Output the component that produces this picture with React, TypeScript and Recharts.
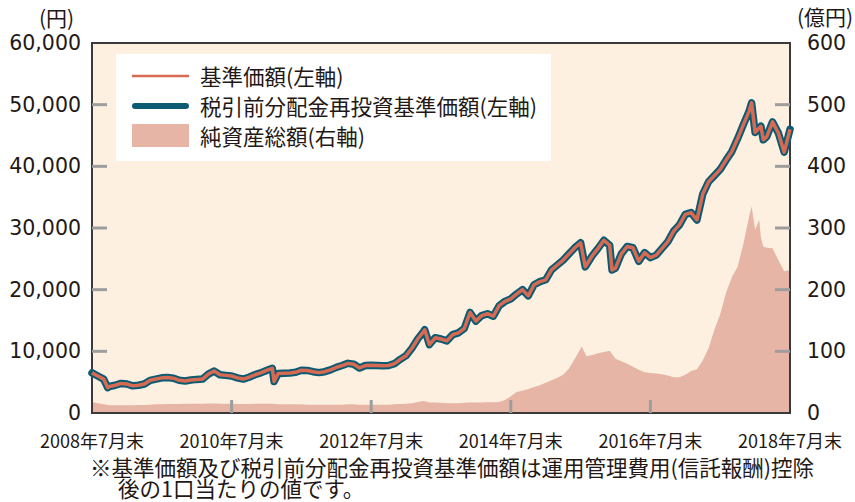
import React from "react";
import {
  ComposedChart,
  Line,
  Area,
  XAxis,
  YAxis,
  CartesianGrid,
  ReferenceArea,
} from "recharts";

// 基準価額 (円), month-end values from 2008年7月 (index 0) to 2018年7月 (index 120)
const navMonthly = [
  6500, 6000, 5500, 4300, 4500, 4800,
  4700, 4400, 4500, 4700, 5300, 5500, 5700, 5750, 5650, 5300, 5200, 5350,
  5450, 5500, 6300, 6800, 6200, 6100, 6000, 5700, 5500, 5800, 6200, 6500,
  6900, 7250, 6400, 6450, 6500, 6600, 6950, 6900, 6700, 6550, 6700, 7000,
  7400, 7700, 8050, 7900, 7300, 7700, 7750, 7700, 7650, 7700, 8000, 8700,
  9300, 10500, 12000, 13200, 11100, 12200, 12000, 11700, 12700, 13000, 13700, 16300,
  14900, 15800, 16100, 15700, 17400, 18100, 18500, 19300, 20000, 19000, 20800, 21300,
  21600, 23200, 24000, 24800, 25800, 26800, 27600, 24000, 25500, 26700, 28000, 27200,
  23500, 25800, 27000, 26800, 24600, 26000, 25200, 25600, 26700, 27800, 29500, 30500,
  32200, 32500, 31300, 35500, 37500, 38500, 39500, 41000, 42400, 44500, 46800, 49000,
  45500, 46500, 44800, 47200, 45400, 42300, 46000,
];

// mid-month extremes of 基準価額 [month index, 円]
const navExtra: [number, number][] = [
  [2.7, 4100],
  [31.3, 5100],
  [57.2, 13500],
  [84.8, 23700],
  [89.4, 23200],
  [113.4, 50300],
  [115.4, 44300],
];

// 純資産総額 (億円), month-end
const assetMonthly = [
  18, 16, 14, 12.5, 12.5, 12.5,
  12.5, 12.5, 13, 13, 13.5, 14, 14, 14.5, 14.5, 14.5, 15, 15,
  15, 15, 15.5, 15.5, 15, 15, 15, 14.5, 14.5, 14.5, 15, 15,
  15, 15, 14, 14, 14, 14, 14, 13.5, 13.5, 13.5, 13.5, 13.5,
  13.5, 13.5, 14, 14, 13.5, 13.5, 13.5, 13.5, 13.5, 13.5, 14, 14.5,
  15, 16, 18, 19.5, 17, 17, 16.5, 16, 16, 16, 16.5, 17,
  17, 17, 17.5, 17.5, 18, 21, 27, 34, 36, 39, 42, 45,
  49, 53, 57, 62, 72, 88, 104, 92, 94, 97, 99, 101,
  88, 84, 80, 75, 70, 66, 65, 64, 63, 61, 58, 58,
  62, 68, 71, 85, 105, 135, 160, 195, 220, 237, 275, 320,
  297, 285, 268, 267, 248, 230, 232,
];

const assetExtra: [number, number][] = [
  [84.2, 108],
  [113.4, 335],
  [114.7, 313],
  [115.4, 270],
];

const xTicks = [0, 24, 48, 72, 96, 120];
const xTickLabels = [
  "2008年7月末",
  "2010年7月末",
  "2012年7月末",
  "2014年7月末",
  "2016年7月末",
  "2018年7月末",
];
const leftTicks = [0, 10000, 20000, 30000, 40000, 50000, 60000];
const rightTicks = [0, 100, 200, 300, 400, 500, 600];

const legendLabels = [
  "基準価額(左軸)",
  "税引前分配金再投資基準価額(左軸)",
  "純資産総額(右軸)",
];

const footnote =
  "※基準価額及び税引前分配金再投資基準価額は運用管理費用(信託報酬)控除後の1口当たりの値です。";

type Row = { t: number; nav?: number; asset?: number };
const rows = new Map<number, Row>();
const row = (t: number) => {
  if (!rows.has(t)) rows.set(t, { t });
  return rows.get(t)!;
};
navMonthly.forEach((v, i) => (row(i).nav = v));
navExtra.forEach(([t, v]) => (row(t).nav = v));
assetMonthly.forEach((v, i) => (row(i).asset = v));
assetExtra.forEach(([t, v]) => (row(t).asset = v));
const chartData = Array.from(rows.values()).sort((a, b) => a.t - b.t);

const BG = "#fdf0e1";
const AREA = "#e6b5a6";
const RED = "#d66a52";
const TEAL = "#0d5b73";
const TEXT = "#231815";
const TICK = "#9d9d9d";
const CJK = '"Noto Sans CJK JP", sans-serif';
const NUM = '"DejaVu Sans", sans-serif';

const withComma = (v: number) =>
  String(v).replace(/\B(?=(\d{3})+(?!\d))/g, ",");

const LeftTick = ({ x, y, payload }: any) => (
  <g>
    {payload.value > 0 && payload.value < 60000 && (
      <line x1={x} x2={x + 15} y1={y} y2={y} stroke={TICK} strokeWidth={3} />
    )}
    <text
      x={x - 11}
      y={y}
      textAnchor="end"
      dominantBaseline="central"
      fontFamily={NUM}
      fontSize={20.5}
      fill={TEXT}
    >
      {withComma(payload.value)}
    </text>
  </g>
);

const RightTick = ({ x, y, payload }: any) => (
  <g>
    {payload.value > 0 && payload.value < 600 && (
      <line x1={x - 15} x2={x} y1={y} y2={y} stroke={TICK} strokeWidth={3} />
    )}
    <text
      x={x + 17}
      y={y}
      textAnchor="start"
      dominantBaseline="central"
      fontFamily={NUM}
      fontSize={20.5}
      fill={TEXT}
    >
      {payload.value}
    </text>
  </g>
);

const BottomTick = ({ x, y, payload, index }: any) => (
  <g>
    {payload.value > 0 && payload.value < 120 && (
      <line x1={x} x2={x} y1={y - 13} y2={y} stroke={TICK} strokeWidth={3} />
    )}
    <text
      x={x}
      y={y + 27}
      textAnchor="middle"
      dominantBaseline="central"
      fontFamily={CJK}
      fontSize={18}
      fill={TEXT}
    >
      {xTickLabels[index] ?? xTickLabels[xTicks.indexOf(payload.value)]}
    </text>
  </g>
);

function LegendBox() {
  return (
    <div
      style={{
        position: "absolute",
        left: 116,
        top: 54,
        width: 435,
        height: 107,
        background: "#ffffff",
        fontFamily: CJK,
        fontSize: 21.5,
        color: TEXT,
      }}
    >
      {legendLabels.map((label, i) => (
        <div
          key={label}
          style={{
            position: "absolute",
            left: 0,
            top: 22 + i * 30 - 15,
            height: 30,
            display: "flex",
            alignItems: "center",
          }}
        >
          <svg width={84} height={30} style={{ display: "block" }}>
            {i === 0 && (
              <line x1={16} x2={73} y1={15} y2={15} stroke={RED} strokeWidth={2.5} />
            )}
            {i === 1 && (
              <line
                x1={19}
                x2={70}
                y1={15}
                y2={15}
                stroke={TEAL}
                strokeWidth={6}
                strokeLinecap="round"
              />
            )}
            {i === 2 && <rect x={16} y={3} width={57} height={23} fill={AREA} />}
          </svg>
          <span style={{ whiteSpace: "nowrap", lineHeight: "30px" }}>{label}</span>
        </div>
      ))}
    </div>
  );
}

export default function App() {
  return (
    <div
      style={{
        position: "absolute",
        left: 0,
        top: 0,
        width: 855,
        height: 502,
        background: "#ffffff",
        overflow: "hidden",
      }}
    >
      <ComposedChart
        width={855}
        height={502}
        data={chartData}
        margin={{ top: 43, right: 0, left: 0, bottom: 59 }}
      >
        <CartesianGrid
          xAxisId="x"
          yAxisId="l"
          horizontal={false}
          vertical={false}
          fill={BG}
        />
        <Area
          xAxisId="x"
          yAxisId="r"
          type="linear"
          dataKey="asset"
          stroke="none"
          fill={AREA}
          fillOpacity={1}
          connectNulls
          isAnimationActive={false}
          dot={false}
          activeDot={false}
        />
        <Line
          xAxisId="x"
          yAxisId="l"
          type="linear"
          dataKey="nav"
          stroke={TEAL}
          strokeWidth={7.5}
          strokeLinejoin="round"
          strokeLinecap="round"
          connectNulls
          dot={false}
          activeDot={false}
          isAnimationActive={false}
        />
        <Line
          xAxisId="x"
          yAxisId="l"
          type="linear"
          dataKey="nav"
          stroke={RED}
          strokeWidth={3.5}
          strokeLinejoin="round"
          connectNulls
          dot={false}
          activeDot={false}
          isAnimationActive={false}
        />
        <XAxis
          xAxisId="x"
          dataKey="t"
          type="number"
          domain={[0, 120]}
          ticks={xTicks}
          interval={0}
          height={30}
          tickSize={0}
          tickMargin={0}
          tickLine={false}
          axisLine={false}
          tick={<BottomTick />}
        />
        <YAxis
          yAxisId="l"
          orientation="left"
          domain={[0, 60000]}
          ticks={leftTicks}
          interval={0}
          width={92}
          tickSize={0}
          tickMargin={0}
          tickLine={false}
          axisLine={false}
          tick={<LeftTick />}
        />
        <YAxis
          yAxisId="r"
          orientation="right"
          domain={[0, 600]}
          ticks={rightTicks}
          interval={0}
          width={65}
          tickSize={0}
          tickMargin={0}
          tickLine={false}
          axisLine={false}
          tick={<RightTick />}
        />
        <ReferenceArea
          xAxisId="x"
          yAxisId="l"
          x1={0}
          x2={120}
          y1={0}
          y2={60000}
          fill="none"
          stroke="#3a3a3a"
          strokeWidth={2}
          ifOverflow="visible"
        />
      </ComposedChart>

      <LegendBox />

      <div
        style={{
          position: "absolute",
          left: 39,
          top: 4,
          fontFamily: CJK,
          fontSize: 21,
          lineHeight: "26px",
          color: TEXT,
          whiteSpace: "nowrap",
        }}
      >
        (円)
      </div>
      <div
        style={{
          position: "absolute",
          left: 797,
          top: 3,
          fontFamily: CJK,
          fontSize: 21,
          lineHeight: "26px",
          color: TEXT,
          whiteSpace: "nowrap",
        }}
      >
        (億円)
      </div>

      <div
        style={{
          position: "absolute",
          left: 90,
          top: 457,
          width: 712,
          paddingLeft: 28,
          textIndent: -28,
          fontFamily: CJK,
          fontSize: 21.5,
          lineHeight: "20.5px",
          color: TEXT,
        }}
      >
        {footnote}
      </div>
    </div>
  );
}
